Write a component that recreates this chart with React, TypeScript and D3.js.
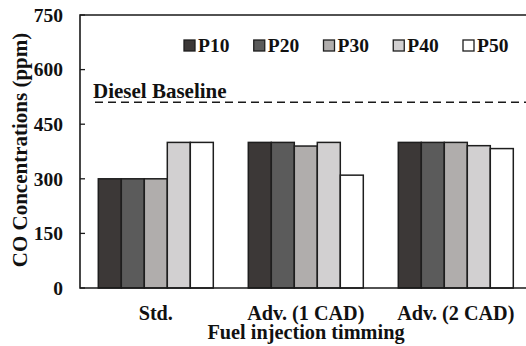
import React from "react";
import * as d3 from "d3";

// Injection timing groups and the CO percentile series
const timings = ["Std.", "Adv. (1 CAD)", "Adv. (2 CAD)"];
const seriesNames = ["P10", "P20", "P30", "P40", "P50"];
const seriesColors = ["#3c3837", "#5b5b5b", "#b0adac", "#d2d0d1", "#ffffff"];
const p10 = [300, 400, 400];
const p20 = [300, 400, 400];
const p30 = [300, 390, 400];
const p40 = [400, 400, 391];
const p50 = [400, 310, 383];
const dieselBaseline = 510;
const yTicks = [0, 150, 300, 450, 600, 750];

const W = 526;
const H = 346;
const FONT = "'Liberation Serif', 'Times New Roman', serif";

export default function App() {
  const values = [p10, p20, p30, p40, p50];
  const left = 80;
  const top = 15;
  const bottom = 288;

  const y = d3.scaleLinear().domain([0, 750]).range([bottom, top]);
  const x0 = d3
    .scaleBand<string>()
    .domain(timings)
    .range([80.8, 530.8])
    .paddingInner(35 / 150)
    .paddingOuter(17.5 / 150);
  const x1 = d3
    .scaleBand<string>()
    .domain(seriesNames)
    .range([0, x0.bandwidth()]);

  const legendX = d3.scalePoint<string>().domain(seriesNames).range([184, 463]);

  return (
    <svg
      width={W}
      height={H}
      style={{ position: "absolute", left: 0, top: 0, background: "#fff" }}
      fontFamily={FONT}
      fontWeight="bold"
    >
      {/* bars */}
      {timings.map((t, gi) =>
        seriesNames.map((s, si) => {
          const v = values[si][gi];
          return (
            <rect
              key={t + s}
              x={(x0(t) as number) + (x1(s) as number)}
              y={y(v)}
              width={x1.bandwidth()}
              height={y(0) - y(v)}
              fill={seriesColors[si]}
              stroke="#1e1e1e"
              strokeWidth={1.5}
            />
          );
        })
      )}

      {/* frame */}
      <path
        d={`M${W + 10},${top}H${left}V${bottom}H${W + 10}`}
        fill="none"
        stroke="#1a1a1a"
        strokeWidth={1.6}
      />

      {/* y ticks */}
      {yTicks.map((t) => (
        <g key={t}>
          <line x1={left} x2={left + 5} y1={y(t)} y2={y(t)} stroke="#1a1a1a" strokeWidth={1.3} />
          <text x={63} y={y(t)} dy="0.35em" textAnchor="end" fontSize={19.5} fill="#111">
            {t}
          </text>
        </g>
      ))}

      {/* diesel baseline */}
      <line
        x1={95}
        x2={W + 5}
        y1={y(dieselBaseline)}
        y2={y(dieselBaseline)}
        stroke="#1a1a1a"
        strokeWidth={1.5}
        strokeDasharray="8,5"
      />
      <text x={93} y={97.5} fontSize={21} fill="#111">
        Diesel Baseline
      </text>

      {/* legend */}
      {seriesNames.map((s, i) => (
        <g key={s}>
          <rect
            x={legendX(s)}
            y={40}
            width={11}
            height={11}
            fill={seriesColors[i]}
            stroke="#1e1e1e"
            strokeWidth={1.3}
          />
          <text x={(legendX(s) as number) + 14} y={52} fontSize={19.5} fill="#111">
            {s}
          </text>
        </g>
      ))}

      {/* category labels */}
      {timings.map((t) => (
        <text
          key={t}
          x={(x0(t) as number) + x0.bandwidth() / 2}
          y={320}
          textAnchor="middle"
          fontSize={20.2}
          fill="#111"
        >
          {t}
        </text>
      ))}

      {/* axis titles */}
      <text x={306} y={338.5} textAnchor="middle" fontSize={20.3} fill="#111">
        Fuel injection timming
      </text>
      <text
        transform={`translate(27,150) rotate(-90)`}
        textAnchor="middle"
        fontSize={21}
        fill="#111"
      >
        CO Concentrations (ppm)
      </text>
    </svg>
  );
}
